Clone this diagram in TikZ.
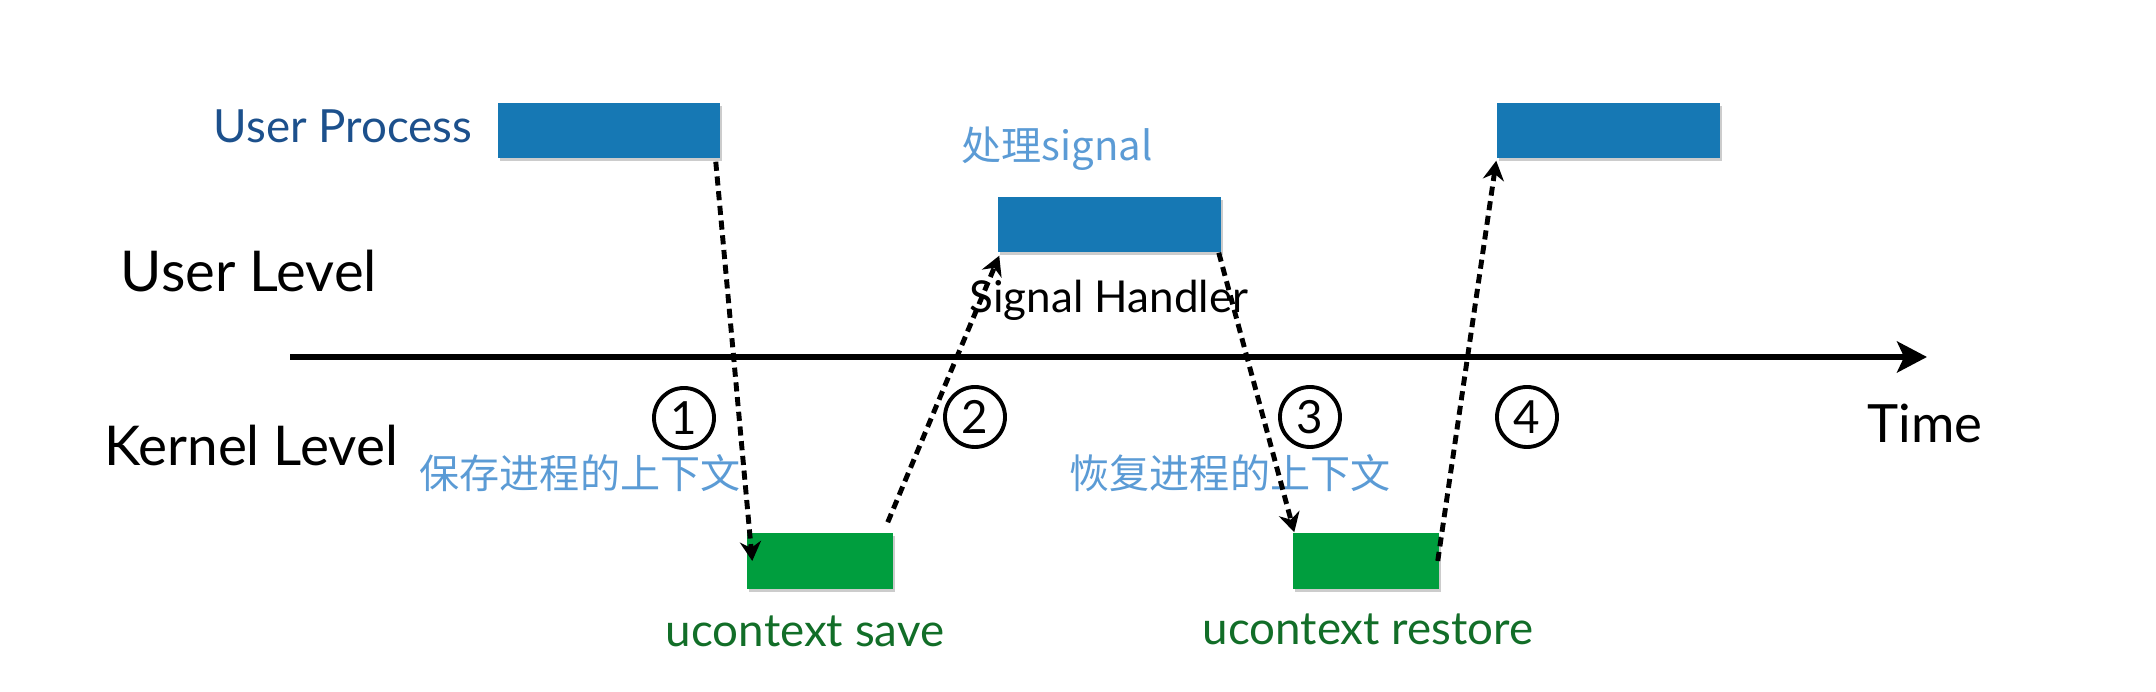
\documentclass[tikz,border=0pt]{standalone}
\usepackage{fontspec}
\setmainfont{Lato}
\newfontfamily\cjk{Noto Sans CJK SC}
\usetikzlibrary{arrows.meta,shadows}
\definecolor{procblue}{RGB}{22,120,180}
\definecolor{ctxgreen}{RGB}{0,158,62}
\definecolor{labblue}{RGB}{28,80,140}
\definecolor{labgreen}{RGB}{18,110,40}
\definecolor{cnblue}{RGB}{91,155,213}
\begin{document}
\begin{tikzpicture}[x=0.01cm,y=-0.01cm,
  procbox/.style={fill=procblue,draw=none,inner sep=0pt,minimum height=0.55cm,
    drop shadow={shadow xshift=0.6pt,shadow yshift=-0.8pt,opacity=0.2,fill=black}},
  ctxbox/.style={fill=ctxgreen,draw=none,inner sep=0pt,minimum width=1.46cm,minimum height=0.56cm,
    drop shadow={shadow xshift=0.6pt,shadow yshift=-0.8pt,opacity=0.2,fill=black}},
  lvl/.style={anchor=base,inner sep=0pt,font=\fontsize{16}{18}\selectfont},
  proclab/.style={anchor=base,inner sep=0pt,text=labblue,font=\fontsize{13}{15}\selectfont},
  ctxlab/.style={anchor=base,inner sep=0pt,text=labgreen,font=\fontsize{13}{15}\selectfont},
  cnlab/.style={inner sep=0pt,text=cnblue,font=\cjk\fontsize{11.4}{13}\selectfont},
  numcirc/.style={circle,draw,line width=1.1pt,minimum size=0.6cm,inner sep=0pt,
    font=\fontsize{13}{15}\selectfont},
  flow/.style={line width=1.4pt,dash pattern=on 2.6pt off 1.6pt,
    -{Stealth[length=5.5pt,width=6pt]}},
  timeaxis/.style={line width=1.7pt,-{Stealth[length=8.5pt,width=8.8pt,inset=2pt]}}
]
\useasboundingbox (0,0) rectangle (2156,692);

% boxes
\node[procbox,minimum width=2.22cm] (up1) at (609,130.5) {};
\node[procbox,minimum width=2.23cm] (sh) at (1109.5,224.5) {};
\node[procbox,minimum width=2.23cm] (up2) at (1608.5,130.5) {};
\node[ctxbox] (cs) at (820,561) {};
\node[ctxbox] (cr) at (1366,561) {};

% labels
\node[proclab] (lup) at (343,143) {User Process};
\node[cnlab] (lsig) at (1057,149) {处理signal};
\node[lvl] (luser) at (249,292) {User Level};
\node[anchor=base,inner sep=0pt,font=\fontsize{12.5}{14}\selectfont] (lsh) at (1109,313) {Signal Handler};
\node[lvl,font=\fontsize{15.6}{18}\selectfont] (lkern) at (251,466) {Kernel Level};
\node[anchor=base,inner sep=0pt,font=\fontsize{15}{17}\selectfont] (ltime) at (1925,443) {Time};
\node[cnlab] (lsave) at (580,473) {保存进程的上下文};
\node[cnlab] (lrest) at (1230,473) {恢复进程的上下文};
\node[ctxlab] (lcs) at (805,647) {ucontext save};
\node[ctxlab] (lcr) at (1368,645) {ucontext restore};

% numbers
\node[numcirc] (n1) at (684,418) {1};
\node[numcirc] (n2) at (975,417) {2};
\node[numcirc] (n3) at (1310,417) {3};
\node[numcirc] (n4) at (1527,417) {4};

% time axis
\coordinate (ax0) at (290,357);
\coordinate (ax1) at (1927,357);
\draw[timeaxis] (ax0) -- (ax1);

% flows
\draw[flow] ([xshift=-0.05cm,yshift=-0.03cm]up1.south east) -- ([xshift=0.06cm]cs.west);
\draw[flow] ([xshift=-0.06cm,yshift=0.1cm]cs.north east) -- ([xshift=0.02cm,yshift=-0.03cm]sh.south west);
\draw[flow] ([xshift=-0.03cm]sh.south east) -- ([xshift=0.02cm]cr.north west);
\draw[flow] ([xshift=-0.02cm]cr.east) -- ([yshift=-0.02cm]up2.south west);
\end{tikzpicture}
\end{document}
